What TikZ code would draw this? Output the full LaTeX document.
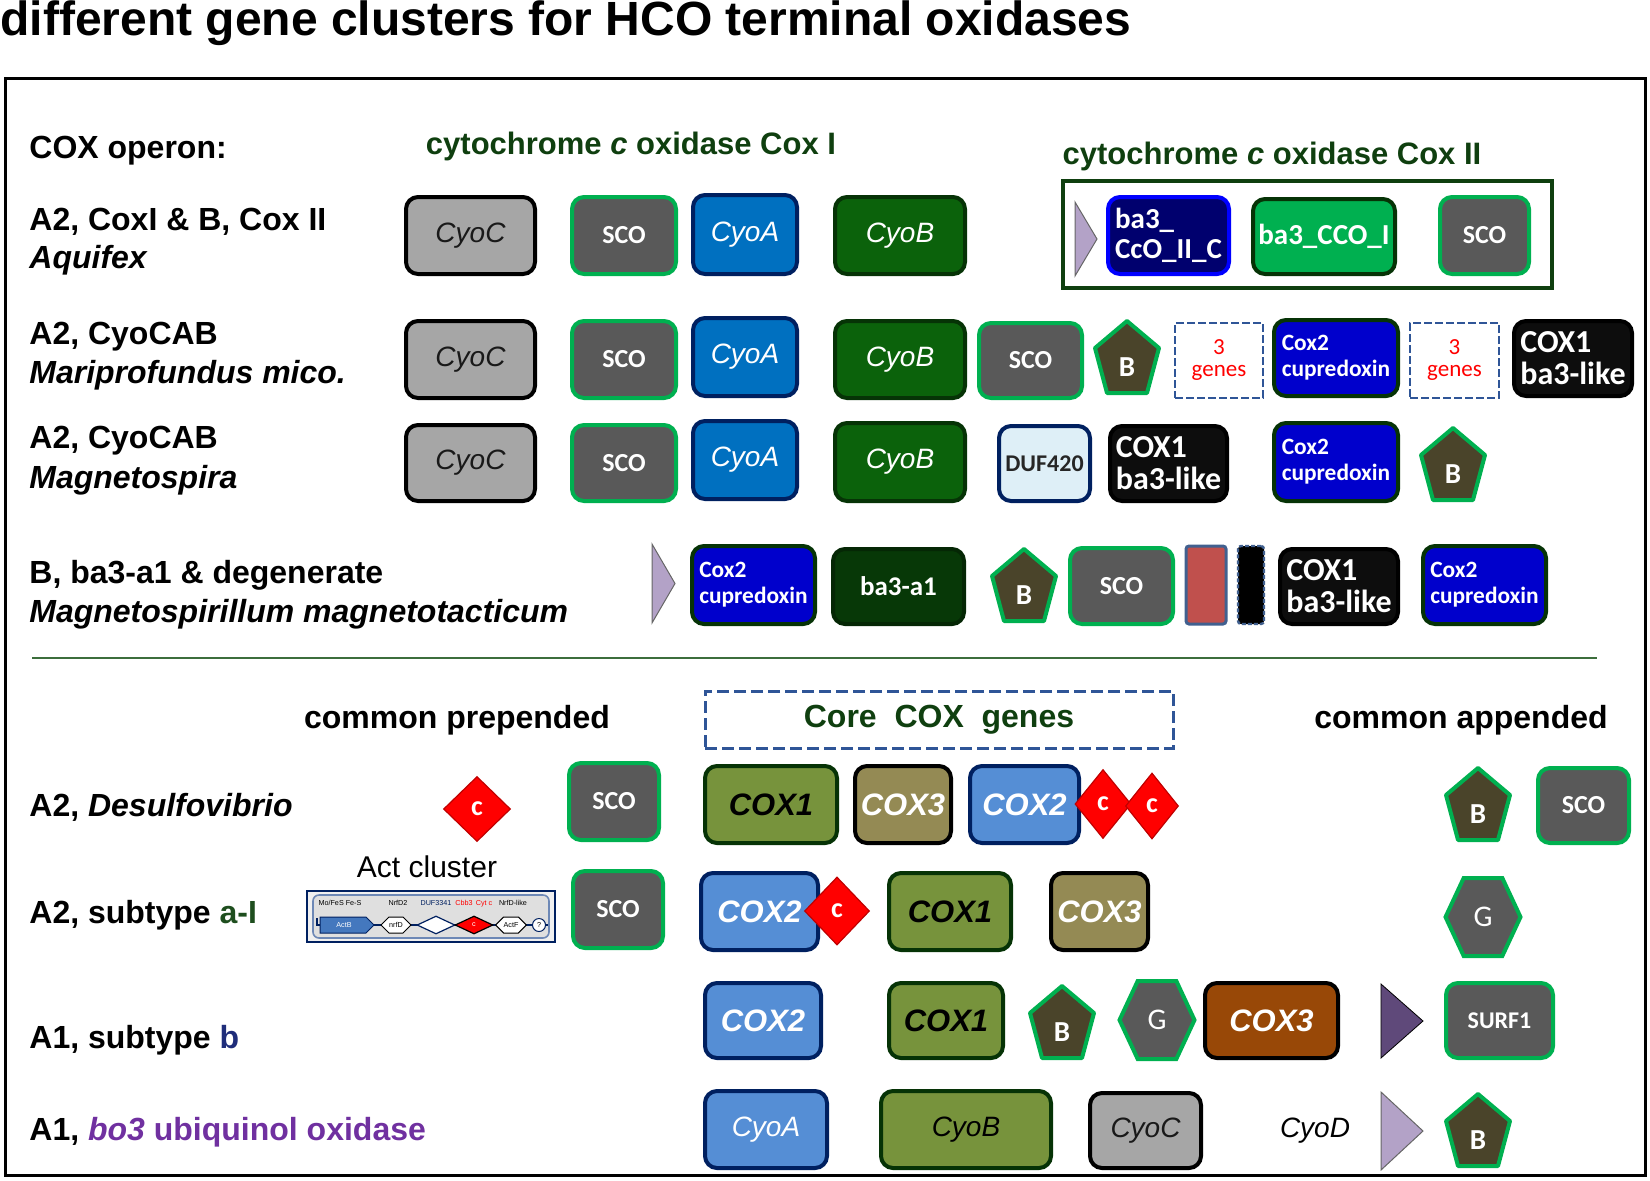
\documentclass[tikz,border=0pt]{standalone}
\usepackage{fontspec}
\setmainfont{Liberation Sans}
\newfontfamily\calib{Carlito}
\usetikzlibrary{shapes.geometric,shapes.symbols}

\definecolor{cgray}{HTML}{A6A6A6}
\definecolor{dgray}{HTML}{595959}
\definecolor{sgreen}{HTML}{00B050}
\definecolor{cblue}{HTML}{0070C0}
\definecolor{navy}{HTML}{002060}
\definecolor{cgreen}{HTML}{0B620B}
\definecolor{cgreendk}{HTML}{063306}
\definecolor{ccofill}{HTML}{00006E}
\definecolor{ccodraw}{HTML}{0000FF}
\definecolor{bbrown}{HTML}{4A442A}
\definecolor{cupblue}{HTML}{0000CC}
\definecolor{dashblue}{HTML}{2F5597}
\definecolor{dufblue}{HTML}{DEEFF7}
\definecolor{ba3green}{HTML}{073807}
\definecolor{barred}{HTML}{C0504D}
\definecolor{barblue}{HTML}{41608F}
\definecolor{coxolive}{HTML}{77933C}
\definecolor{coxkhaki}{HTML}{948A54}
\definecolor{mblue}{HTML}{558ED5}
\definecolor{rust}{HTML}{984807}
\definecolor{lpurple}{HTML}{B3A2C7}
\definecolor{dpurple}{HTML}{5F497A}
\definecolor{hdgreen}{HTML}{0F3F0F}
\definecolor{vpurple}{HTML}{7030A0}
\definecolor{agreen}{HTML}{1E4E1E}
\definecolor{bnavy}{HTML}{1F2D7A}
\definecolor{sepgreen}{HTML}{3C6E3C}
\definecolor{dkred}{HTML}{C00000}

% a gene box from its outer corners (x1,y1) and (x2,y2), in pixels
\newcommand{\gene}[7]{%
  \node[#1, minimum width={(#5-#3-4)*0.5pt}, minimum height={(#6-#4-4)*0.5pt}]
    (#2) at ({(#3+#5)/2},{(#4+#6)/2}) {#7};}
% pentagon B around the centre of its box
\newcommand{\pentB}[3]{%
  \draw[bpent] (#2,#3) ++(0,-36) -- ++(32,27) -- ++(-12,45) -- ++(-40,0) -- ++(-12,-45) -- cycle;
  \node[btxt] (#1) at (#2,#3+10) {B};}
\newcommand{\hexG}[3]{\node[ghex] (#1) at (#2,#3) {G};}
\newcommand{\cdiam}[5]{\node[cdia, minimum width=#4*0.5pt, minimum height=#5*0.5pt] (#1) at (#2,#3) {c};}
% promoter triangle: style, x1, y1, tip x, y2
\newcommand{\promo}[5]{\draw[#1] (#2,#3) -- (#4,{(#3+#5)/2}) -- (#2,#5) -- cycle;}

\begin{document}
\begin{tikzpicture}[
    x=0.5pt, y=-0.5pt,
    every node/.style={inner sep=0pt},
    lbl/.style={font=\bfseries\fontsize{16}{18}\selectfont},
    hd/.style={text=hdgreen, font=\bfseries\fontsize{15.5}{18}\selectfont},
    gene/.style={rectangle, rounded corners=6pt, line width=2pt, align=center},
    cyotxt/.style={font=\itshape\fontsize{14}{16}\selectfont},
    coxtxt/.style={font=\bfseries\itshape\fontsize{15.5}{18}\selectfont},
    cyoc/.style={gene, cyotxt, fill=cgray, draw=black, text=black!90},
    sco/.style={gene, fill=dgray, draw=sgreen, text=white, font=\calib\bfseries\fontsize{13}{15}\selectfont},
    surf/.style={sco, font=\calib\bfseries\fontsize{12}{14}\selectfont},
    cyoa/.style={gene, cyotxt, fill=cblue, draw=navy, text=white},
    cyob/.style={gene, cyotxt, fill=cgreen, draw=cgreendk, text=white},
    ccoII/.style={gene, fill=ccofill, draw=ccodraw, text=white, align=left, font=\calib\bfseries\fontsize{14.5}{15}\selectfont},
    ccoI/.style={gene, fill=sgreen, draw=cgreendk, text=white, font=\calib\bfseries\fontsize{14.5}{15}\selectfont},
    coxbox/.style={rectangle, draw=hdgreen, line width=2pt},
    cupr/.style={gene, fill=cupblue, draw=cgreendk, text=white, align=left, font=\calib\bfseries\fontsize{11.7}{13}\selectfont},
    three/.style={rectangle, draw=dashblue, line width=1.3pt, dash pattern=on 4pt off 1.5pt, fill=white, text=red, align=center, font=\calib\fontsize{11.5}{11}\selectfont},
    blk/.style={gene, fill=black!95, draw=black, text=white, align=left, font=\calib\bfseries\fontsize{16}{16}\selectfont},
    duf/.style={gene, fill=dufblue, draw=navy, text=black!85, font=\calib\bfseries\fontsize{12}{15}\selectfont},
    ba3a/.style={gene, fill=ba3green, draw=ba3green!70!black, text=white, font=\calib\bfseries\fontsize{13.5}{16}\selectfont},
    redbar/.style={rectangle, rounded corners=1.5pt, fill=barred, draw=barblue, line width=1.5pt},
    blkbar/.style={rectangle, rounded corners=1.5pt, fill=black, draw=barblue, line width=1.2pt, dash pattern=on 2pt off 1pt},
    core/.style={rectangle, draw=dashblue, line width=1.5pt, dash pattern=on 6pt off 2.5pt, text=hdgreen, font=\bfseries\fontsize{16}{18}\selectfont},
    cox1/.style={gene, coxtxt, fill=coxolive, draw=cgreendk, text=black},
    cox3/.style={gene, coxtxt, fill=coxkhaki, draw=black, text=white},
    cox2/.style={gene, coxtxt, fill=mblue, draw=navy, text=white},
    cox3b/.style={gene, coxtxt, fill=rust, draw=black, text=white},
    cyoa4/.style={gene, cyotxt, fill=mblue, draw=navy, text=white},
    cyob4/.style={gene, cyotxt, fill=coxolive, draw=cgreendk, text=black},
    bpent/.style={fill=bbrown, draw=sgreen, line width=2pt, line join=round},
    btxt/.style={text=white, font=\calib\bfseries\fontsize{14.5}{16}\selectfont},
    ghex/.style={signal, signal to=east and west, signal pointer angle=130, minimum width=37.5pt, minimum height=39pt, fill=dgray, draw=sgreen, line width=2pt, text=white, font=\calib\fontsize{15}{16}\selectfont},
    cdia/.style={diamond, fill=red, draw=dkred, line width=0.6pt, text=white, font=\calib\bfseries\fontsize{14}{14}\selectfont},
    tril/.style={fill=lpurple, draw=black!60, line width=0.5pt},
    trid/.style={fill=dpurple},
    acttag/.style={font=\fontsize{3.6}{4}\selectfont}
  ]
  \useasboundingbox (0,0) rectangle (1650,1180);

  % title and frame
  \node[anchor=base west, font=\bfseries\fontsize{24}{26}\selectfont] (title) at (0,35) {different gene clusters for HCO terminal oxidases};
  \draw[line width=1.5pt] (5,78) rectangle (1645,1175);

  % headers of the upper part
  \node[lbl, anchor=base west] (opr) at (29,158) {COX operon:};
  \node[hd, anchor=base] (cox1hd) at (631,154) {cytochrome \textit{c} oxidase Cox I};
  \node[hd, anchor=base] (cox2hd) at (1272,164) {cytochrome \textit{c} oxidase Cox II};

  % Aquifex
  \node[lbl, anchor=base west] (r1a) at (29,230) {A2, CoxI \& B, Cox II};
  \node[lbl, anchor=base west] (r1b) at (29,268) {\itshape Aquifex};
  \gene{cyoc}{cyoC1}{404}{195}{537}{276}{CyoC}
  \gene{sco}{sco1}{570}{195}{678}{276}{SCO}
  \gene{cyoa}{cyoA1}{691}{193}{799}{276}{CyoA}
  \gene{cyob}{cyoB1}{833}{195}{967}{276}{CyoB}
  \gene{coxbox}{coxII}{1061}{179}{1554}{290}{}
  \promo{tril}{1075}{202}{1097}{276}
  \gene{ccoII}{ccoIIc}{1106}{195}{1231}{276}{ba3\_\\CcO\_II\_C}
  \gene{ccoI}{ccoI}{1251}{197}{1397}{276}{ba3\_CCO\_I}
  \gene{sco}{sco2}{1438}{195}{1531}{276}{SCO}

  % Mariprofundus
  \node[lbl, anchor=base west] (r2a) at (29,344) {A2, CyoCAB};
  \node[lbl, anchor=base west] (r2b) at (29,383) {\itshape Mariprofundus mico.};
  \gene{cyoc}{cyoC2}{404}{319}{537}{400}{CyoC}
  \gene{sco}{sco3}{570}{319}{678}{400}{SCO}
  \gene{cyoa}{cyoA2}{691}{316}{799}{398}{CyoA}
  \gene{cyob}{cyoB2}{833}{319}{967}{400}{CyoB}
  \gene{sco}{sco4}{977}{321}{1084}{400}{SCO}
  \pentB{b1}{1127}{357}
  \gene{three}{three1}{1173}{321}{1265}{400}{3\\genes}
  \gene{cupr}{cup1}{1272}{318}{1400}{398}{Cox2\\cupredoxin}
  \gene{three}{three2}{1408}{321}{1501}{400}{3\\genes}
  \gene{blk}{like1}{1512}{319}{1634}{398}{COX1\\ba3-like}

  % Magnetospira
  \node[lbl, anchor=base west] (r3a) at (29,448) {A2, CyoCAB};
  \node[lbl, anchor=base west] (r3b) at (29,488) {\itshape Magnetospira};
  \gene{cyoc}{cyoC3}{404}{423}{537}{503}{CyoC}
  \gene{sco}{sco5}{570}{423}{678}{503}{SCO}
  \gene{cyoa}{cyoA3}{691}{419}{799}{501}{CyoA}
  \gene{cyob}{cyoB3}{833}{421}{967}{503}{CyoB}
  \gene{duf}{duf}{997}{424}{1092}{503}{DUF420}
  \gene{blk}{like2}{1108}{424}{1229}{503}{COX1\\ba3-like}
  \gene{cupr}{cup2}{1272}{421}{1400}{503}{Cox2\\cupredoxin}
  \pentB{b2}{1453}{464}

  % Magnetospirillum
  \node[lbl, anchor=base west] (r4a) at (29,583) {B, ba3-a1 \& degenerate};
  \node[lbl, anchor=base west] (r4b) at (29,622) {\itshape Magnetospirillum magnetotacticum};
  \promo{tril}{652}{544}{675}{623}
  \gene{cupr}{cup3}{690}{544}{817}{626}{Cox2\\cupredoxin}
  \gene{ba3a}{ba3a1}{831}{547}{966}{626}{ba3-a1}
  \pentB{b3}{1024}{585}
  \gene{sco}{sco6}{1068}{546}{1175}{626}{SCO}
  \gene{redbar}{red1}{1184}{544}{1228}{626}{}
  \gene{blkbar}{blk1}{1236}{544}{1266}{626}{}
  \gene{blk}{like3}{1278}{547}{1400}{626}{COX1\\ba3-like}
  \gene{cupr}{cup4}{1421}{544}{1548}{626}{Cox2\\cupredoxin}

  \draw[draw=sepgreen, line width=0.8pt] (32,658) -- (1597,658);

  % headers of the lower part
  \node[lbl, anchor=base] (prep) at (457,728) {common prepended};
  \gene{core}{core}{703}{689}{1175}{750}{Core\ \ COX\ \ genes}
  \node[lbl, anchor=base] (app) at (1461,728) {common appended};

  % Desulfovibrio
  \node[lbl, anchor=base west] (r5) at (29,816) {A2, \textit{Desulfovibrio}};
  \cdiam{d1}{477}{809}{67}{65}
  \gene{sco}{sco7}{567}{761}{661}{842}{SCO}
  \gene{cox1}{cox1a}{703}{764}{839}{845}{COX1}
  \gene{cox3}{cox3a}{853}{764}{953}{845}{COX3}
  \gene{cox2}{cox2a}{968}{764}{1081}{845}{COX2}
  \cdiam{d2}{1103}{804}{56}{69}
  \cdiam{d3}{1152}{806}{53}{66}
  \pentB{b4}{1478}{804}
  \gene{sco}{sco8}{1536}{766}{1631}{845}{SCO}

  % subtype a-I with the Act cluster
  \node[lbl, anchor=base west] (r6) at (29,923) {A2, subtype \textcolor{agreen}{a-I}};
  \node[anchor=base, font=\fontsize{15}{17}\selectfont] (actlbl) at (427,877) {Act cluster};
  \node[rectangle, fill=gray!12, draw=navy, line width=0.8pt, minimum width=124pt, minimum height=25.5pt] (act) at (431,916.5) {};
  \draw[draw=dashblue!70, line width=0.8pt, rounded corners=3pt, fill=gray!25] (313,895) rectangle (549,938);
  \draw[navy, line width=0.6pt] (317,918) -- (317,925) -- (548,925);
  \node[acttag, anchor=base] (t1) at (340,905) {Mo/FeS Fe-S};
  \node[acttag, anchor=base] (t2) at (398,905) {NrfD2};
  \node[acttag, anchor=base, text=navy] (t3) at (436,905) {DUF3341};
  \node[acttag, anchor=base, text=red] (t4) at (464,905) {Cbb3};
  \node[acttag, anchor=base, text=red] (t5) at (484,905) {Cyt c};
  \node[acttag, anchor=base] (t6) at (513,905) {NrfD-like};
  \draw[fill=mblue!80!navy, draw=navy, line width=0.5pt] (320,917) -- (366,917) -- (374,925) -- (366,933) -- (320,933) -- cycle;
  \node[acttag, text=white] (actb) at (344,925) {ActB};
  \node[signal, signal to=east and west, fill=white, draw=black, line width=0.5pt, minimum width=15pt, minimum height=8pt, acttag] (nrfd) at (396,925) {nrfD};
  \node[diamond, fill=white, draw=navy, line width=0.6pt, minimum width=19pt, minimum height=9pt] (actd) at (436,925) {};
  \node[diamond, fill=red, draw=black, line width=0.6pt, minimum width=19pt, minimum height=9pt, acttag, text=white] (acte) at (474,925) {c};
  \node[signal, signal to=east and west, fill=white, draw=black, line width=0.5pt, minimum width=14pt, minimum height=8pt, acttag] (actf) at (511,925) {ActF};
  \node[circle, fill=white, draw=navy, line width=0.5pt, minimum size=6.5pt, acttag] (actq) at (539,925) {?};
  \gene{sco}{sco9}{571}{869}{665}{950}{SCO}
  \gene{cox2}{cox2b}{699}{871}{820}{952}{COX2}
  \cdiam{d4}{837}{911}{65}{68}
  \gene{cox1}{cox1b}{887}{871}{1013}{952}{COX1}
  \gene{cox3}{cox3b}{1049}{871}{1150}{952}{COX3}
  \hexG{g1}{1483}{917}

  % subtype b
  \node[lbl, anchor=base west] (r7) at (29,1048) {A1, subtype \textcolor{bnavy}{b}};
  \gene{cox2}{cox2c}{703}{981}{823}{1060}{COX2}
  \gene{cox1}{cox1c}{887}{981}{1005}{1060}{COX1}
  \pentB{b5}{1062}{1022}
  \hexG{g2}{1157}{1020}
  \gene{cox3b}{cox3c}{1203}{981}{1340}{1060}{COX3}
  \promo{trid}{1381}{984}{1423}{1058}
  \gene{surf}{surf1}{1444}{981}{1555}{1060}{SURF1}

  % bo3 ubiquinol oxidase
  \node[lbl, anchor=base west] (r8) at (29,1140) {A1, \textcolor{vpurple}{\textit{bo3} ubiquinol oxidase}};
  \gene{cyoa4}{cyoA4}{703}{1089}{829}{1170}{CyoA}
  \gene{cyob4}{cyoB4}{879}{1089}{1053}{1170}{CyoB}
  \gene{cyoc}{cyoC4}{1088}{1091}{1203}{1170}{CyoC}
  \node[cyotxt, anchor=base] (cyoD) at (1315,1137) {CyoD};
  \promo{tril}{1381}{1092}{1423}{1170}
  \pentB{b6}{1478}{1130}
\end{tikzpicture}
\end{document}
